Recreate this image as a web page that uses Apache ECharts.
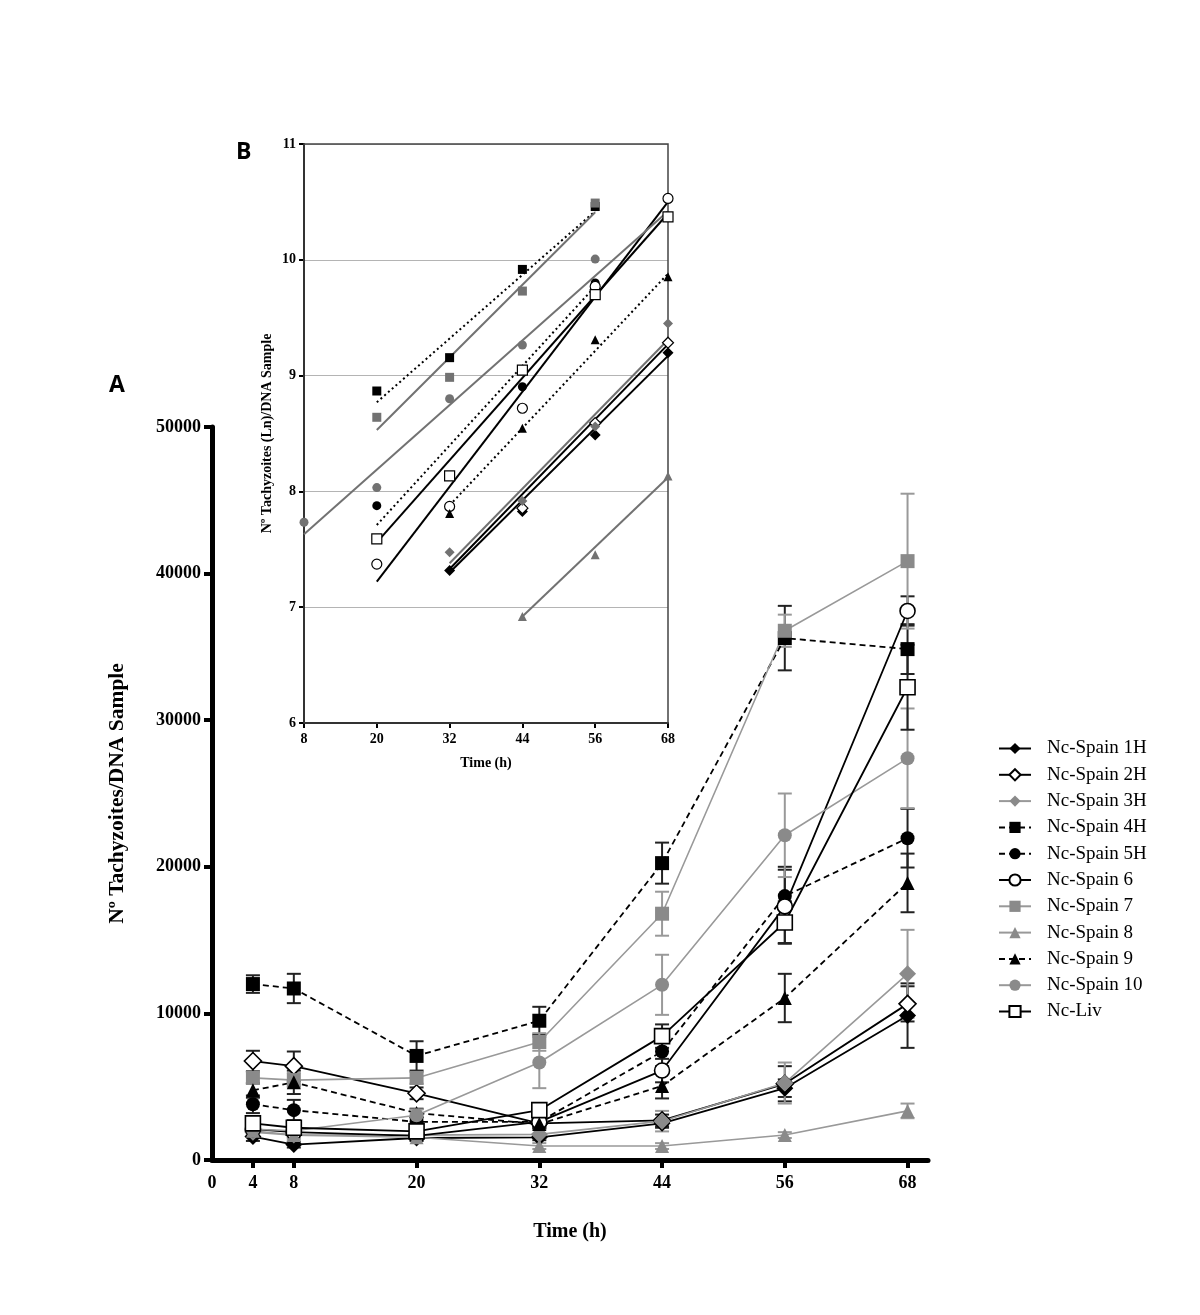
<!DOCTYPE html>
<html>
<head>
<meta charset="utf-8">
<script src="https://cdn.jsdelivr.net/npm/echarts@6/dist/echarts.min.js"></script>
<style>
html,body{margin:0;padding:0;background:#fff;}
#chart{width:1200px;height:1315px;}
</style>
</head>
<body>
<div id="chart"></div>
<script>
// ---------- DATA ----------
const seriesNames = ['Nc-Spain 1H','Nc-Spain 2H','Nc-Spain 3H','Nc-Spain 4H','Nc-Spain 5H','Nc-Spain 6','Nc-Spain 7','Nc-Spain 8','Nc-Spain 9','Nc-Spain 10','Nc-Liv'];
const mainTimes = [4, 8, 20, 32, 44, 56, 68];
const xTickValues = [4, 8, 20, 32, 44, 56, 68];
const xLabelValues = [0, 4, 8, 20, 32, 44, 56, 68];

// Panel A: Nº tachyzoites / DNA sample (mean) and error (±)
const v1H  = [1600, 1050, 1500, 1550, 2500, 4900, 9850];
const e1H  = [300, 200, 200, 200, 300, 600, 2200];
const v2H  = [6750, 6400, 4550, 2500, 2700, 5200, 10650];
const e2H  = [700, 1000, 400, 300, 400, 1200, 1200];
const v3H  = [1900, 1700, 1700, 1750, 2650, 5250, 12700];
const e3H  = [300, 300, 300, 300, 700, 1400, 3000];
const v4H  = [12000, 11700, 7100, 9500, 20250, 35600, 34850];
const e4H  = [600, 1000, 1000, 950, 1400, 2200, 1700];
const v5H  = [3800, 3400, 2600, 2600, 7400, 18000, 21950];
const e5H  = [600, 700, 300, 300, 1000, 2000, 2000];
const v6   = [2100, 1900, 1650, 2600, 6100, 17300, 37450];
const e6   = [300, 300, 300, 300, 800, 2500, 1000];
const v7   = [5600, 5450, 5600, 8050, 16800, 36100, 40850];
const e7   = [400, 500, 400, 600, 1500, 1100, 4600];
const v8   = [2000, 1700, 1550, 950, 950, 1700, 3350];
const e8   = [200, 200, 200, 200, 200, 200, 500];
const v9   = [4750, 5300, 3200, 2450, 5050, 11050, 18900];
const e9   = [500, 800, 300, 300, 850, 1650, 2000];
const v10  = [2100, 2000, 3050, 6650, 11950, 22150, 27400];
const e10  = [300, 300, 400, 1750, 2050, 2850, 3400];
const vLiv = [2500, 2200, 1950, 3400, 8450, 16200, 32250];
const eLiv = [500, 500, 300, 300, 800, 1450, 2900];

// Panel B: Ln(Nº tachyzoites)/DNA sample
const lnTimes = [8, 20, 32, 44, 56, 68];
const ln1H  = [null, null, 7.317, 7.826, 8.487, 9.197];
const ln2H  = [null, null, null, 7.855, 8.59, 9.284];
const ln3H  = [null, null, 7.475, 7.918, 8.56, 9.45];
const ln4H  = [null, 8.867, 9.155, 9.917, 10.46, null];
const ln5H  = [null, 7.877, 7.869, 8.904, 9.80, null];
const ln6   = [null, 7.372, 7.87, 8.718, 9.77, 10.53];
const ln7   = [null, 8.64, 8.985, 9.73, 10.49, null];
const ln8   = [null, null, null, 6.92, 7.452, 8.134];
const ln9   = [null, null, 7.81, 8.545, 9.31, 9.853];
const ln10  = [7.734, 8.033, 8.80, 9.264, 10.006, null];
const lnLiv = [null, 7.59, 8.134, 9.047, 9.70, 10.37];

// Panel B regression lines (start time, start value, end time, end value), series order
const fitT0 = [32, 32, 32, 20, 20, 20, 20, 44, 32, 8, 20];
const fitV0 = [7.30, 7.33, 7.38, 8.77, 7.71, 7.22, 8.53, 6.92, 7.88, 7.63, 7.56];
const fitT1 = [68, 68, 68, 56, 56, 68, 56, 68, 68, 68, 68];
const fitV1 = [9.17, 9.27, 9.31, 10.42, 9.77, 10.50, 10.41, 8.12, 9.88, 10.42, 10.40];

// ---------- STYLES ----------
const BLACK = '#000000', GRAY_M = '#8a8a8a', GRAY_L = '#999999', GRAY_B = '#727272';
const styles = [
  {sym:'diamond', fill:BLACK, border:null, line:BLACK, dash:'solid', size:17, sizeB:11},
  {sym:'diamond', fill:'#fff', border:BLACK, line:BLACK, dash:'solid', size:17, sizeB:11},
  {sym:'diamond', fill:GRAY_M, border:null, line:GRAY_L, dash:'solid', size:17, sizeB:10, gray:true},
  {sym:'rect', fill:BLACK, border:null, line:BLACK, dash:'dashed', size:14, sizeB:9},
  {sym:'circle', fill:BLACK, border:null, line:BLACK, dash:'dashed', size:14, sizeB:9},
  {sym:'circle', fill:'#fff', border:BLACK, line:BLACK, dash:'solid', size:15, sizeB:10},
  {sym:'rect', fill:GRAY_M, border:null, line:GRAY_L, dash:'solid', size:14, sizeB:9, gray:true},
  {sym:'triangle', fill:GRAY_M, border:null, line:GRAY_L, dash:'solid', size:14, sizeB:9, gray:true},
  {sym:'triangle', fill:BLACK, border:null, line:BLACK, dash:'dashed', size:14, sizeB:9},
  {sym:'circle', fill:GRAY_M, border:null, line:GRAY_L, dash:'solid', size:14, sizeB:9, gray:true},
  {sym:'rect', fill:'#fff', border:BLACK, line:BLACK, dash:'solid', size:15, sizeB:10}
];
const mainVals = [v1H, v2H, v3H, v4H, v5H, v6, v7, v8, v9, v10, vLiv];
const mainErrs = [e1H, e2H, e3H, e4H, e5H, e6, e7, e8, e9, e10, eLiv];
const lnVals = [ln1H, ln2H, ln3H, ln4H, ln5H, ln6, ln7, ln8, ln9, ln10, lnLiv];

const SERIF = 'Liberation Serif';

const series = [];
// error bars (drawn first, below markers)
seriesNames.forEach((name, i) => {
  const st = styles[i];
  const col = st.gray ? GRAY_L : '#222';
  series.push({
    type: 'custom', name: name + ' err', xAxisIndex: 0, yAxisIndex: 0, z: 2,
    silent: true,
    data: mainTimes.map((t, k) => [t, mainVals[i][k] - mainErrs[i][k], mainVals[i][k] + mainErrs[i][k]]),
    renderItem: function (params, api) {
      const x = api.value(0), lo = api.value(1), hi = api.value(2);
      const p1 = api.coord([x, hi]), p2 = api.coord([x, lo]);
      const hw = 7;
      const s = {stroke: col, lineWidth: 2};
      return {type: 'group', children: [
        {type: 'line', shape: {x1: p1[0], y1: p1[1], x2: p2[0], y2: p2[1]}, style: s},
        {type: 'line', shape: {x1: p1[0] - hw, y1: p1[1], x2: p1[0] + hw, y2: p1[1]}, style: s},
        {type: 'line', shape: {x1: p2[0] - hw, y1: p2[1], x2: p2[0] + hw, y2: p2[1]}, style: s}
      ]};
    }
  });
});
// main lines
seriesNames.forEach((name, i) => {
  const st = styles[i];
  series.push({
    type: 'line', name: name, xAxisIndex: 0, yAxisIndex: 0, z: 3,
    data: mainTimes.map((t, k) => [t, mainVals[i][k]]),
    symbol: st.sym, symbolSize: st.size,
    showAllSymbol: true,
    lineStyle: {color: st.line, width: st.gray ? 1.6 : 1.8, type: st.dash === 'dashed' ? [6, 4] : 'solid'},
    itemStyle: {color: st.fill, borderColor: st.border || st.fill, borderWidth: st.border ? 1.6 : 0, opacity: 1},
    emphasis: {disabled: true},
    animation: false
  });
});
// inset regression lines
seriesNames.forEach((name, i) => {
  const st = styles[i];
  series.push({
    type: 'line', name: name + ' fit', xAxisIndex: 1, yAxisIndex: 1, z: 5,
    data: [[fitT0[i], fitV0[i]], [fitT1[i], fitV1[i]]],
    symbol: 'none', silent: true,
    lineStyle: {color: st.gray ? GRAY_B : BLACK, width: 2, type: st.dash === 'dashed' ? [2, 3] : 'solid'},
    animation: false
  });
});
// inset points
seriesNames.forEach((name, i) => {
  const st = styles[i];
  const c = st.gray ? GRAY_B : st.fill;
  series.push({
    type: 'scatter', name: name + ' ln', xAxisIndex: 1, yAxisIndex: 1, z: 6,
    data: lnTimes.map((t, k) => lnVals[i][k] == null ? null : [t, lnVals[i][k]]).filter(d => d),
    symbol: st.sym, symbolSize: st.sizeB,
    itemStyle: {color: c, borderColor: st.border || c, borderWidth: st.border ? 1.2 : 0, opacity: 1},
    silent: true, animation: false
  });
});

const chart = echarts.init(document.getElementById('chart'), null, {renderer: 'canvas'});
chart.setOption({
  backgroundColor: '#fff',
  animation: false,
  textStyle: {fontFamily: SERIF},
  grid: [
    {left: 212, top: 427, width: 716, height: 733, containLabel: false},
    {left: 304, top: 144, width: 364, height: 579, containLabel: false, show: true, borderColor: '#444', borderWidth: 1.5, backgroundColor: 'rgba(255,255,255,0)', z: 4}
  ],
  xAxis: [
    {
      type: 'value', gridIndex: 0, min: 0, max: 70,
      axisLine: {show: true, onZero: false, lineStyle: {color: '#000', width: 5}},
      axisTick: {show: true, length: 8, inside: false, customValues: xTickValues, lineStyle: {color: '#000', width: 4}},
      axisLabel: {customValues: xLabelValues, margin: 14, color: '#000', fontFamily: SERIF, fontWeight: 'bold', fontSize: 18},
      splitLine: {show: false},
      name: 'Time (h)', nameLocation: 'middle', nameGap: 62,
      nameTextStyle: {color: '#000', fontFamily: SERIF, fontWeight: 'bold', fontSize: 20}
    },
    {
      type: 'value', gridIndex: 1, min: 8, max: 68,
      axisLine: {show: true, onZero: false, lineStyle: {color: '#000', width: 2}},
      axisTick: {show: true, length: 5, customValues: lnTimes, lineStyle: {color: '#000', width: 2}},
      axisLabel: {customValues: lnTimes, margin: 9, color: '#000', fontFamily: SERIF, fontWeight: 'bold', fontSize: 14},
      splitLine: {show: false},
      name: 'Time (h)', nameLocation: 'middle', nameGap: 33,
      nameTextStyle: {color: '#000', fontFamily: SERIF, fontWeight: 'bold', fontSize: 14}
    }
  ],
  yAxis: [
    {
      type: 'value', gridIndex: 0, min: 0, max: 50000, interval: 10000,
      axisLine: {show: true, onZero: false, lineStyle: {color: '#000', width: 5}},
      axisTick: {show: true, length: 8, lineStyle: {color: '#000', width: 4}},
      axisLabel: {margin: 11, color: '#000', fontFamily: SERIF, fontWeight: 'bold', fontSize: 18, formatter: v => String(v)},
      splitLine: {show: false},
      name: 'Nº Tachyzoites/DNA Sample', nameLocation: 'middle', nameGap: 84, nameRotate: 90,
      nameTextStyle: {color: '#000', fontFamily: SERIF, fontWeight: 'bold', fontSize: 21.5}
    },
    {
      type: 'value', gridIndex: 1, min: 6, max: 11, interval: 1,
      axisLine: {show: true, onZero: false, lineStyle: {color: '#000', width: 2}},
      axisTick: {show: true, length: 5, lineStyle: {color: '#000', width: 2}},
      axisLabel: {margin: 8, color: '#000', fontFamily: SERIF, fontWeight: 'bold', fontSize: 14, formatter: v => String(v)},
      splitLine: {show: true, lineStyle: {color: '#b4b4b4', width: 1.2}},
      name: 'Nº Tachyzoites (Ln)/DNA Sample', nameLocation: 'middle', nameGap: 30, nameRotate: 90,
      nameTextStyle: {color: '#000', fontFamily: SERIF, fontWeight: 'bold', fontSize: 14}
    }
  ],
  legend: {
    data: seriesNames,
    orient: 'vertical', left: 993, top: 734,
    itemWidth: 32, itemHeight: 14, itemGap: 7.3,
    selectedMode: false,
    textStyle: {fontFamily: SERIF, fontSize: 19, color: '#000', lineHeight: 14, padding: [0, 0, 0, 11]}
  },
  graphic: [
    {type: 'text', left: 109, top: 374, style: {text: 'A', font: 'bold 23px "Open Sans", "DejaVu Sans", sans-serif', fill: '#000'}},
    {type: 'text', left: 236, top: 141, style: {text: 'B', font: 'bold 23px "Open Sans", "DejaVu Sans", sans-serif', fill: '#000'}}
  ],
  series: series
});
</script>
</body>
</html>
